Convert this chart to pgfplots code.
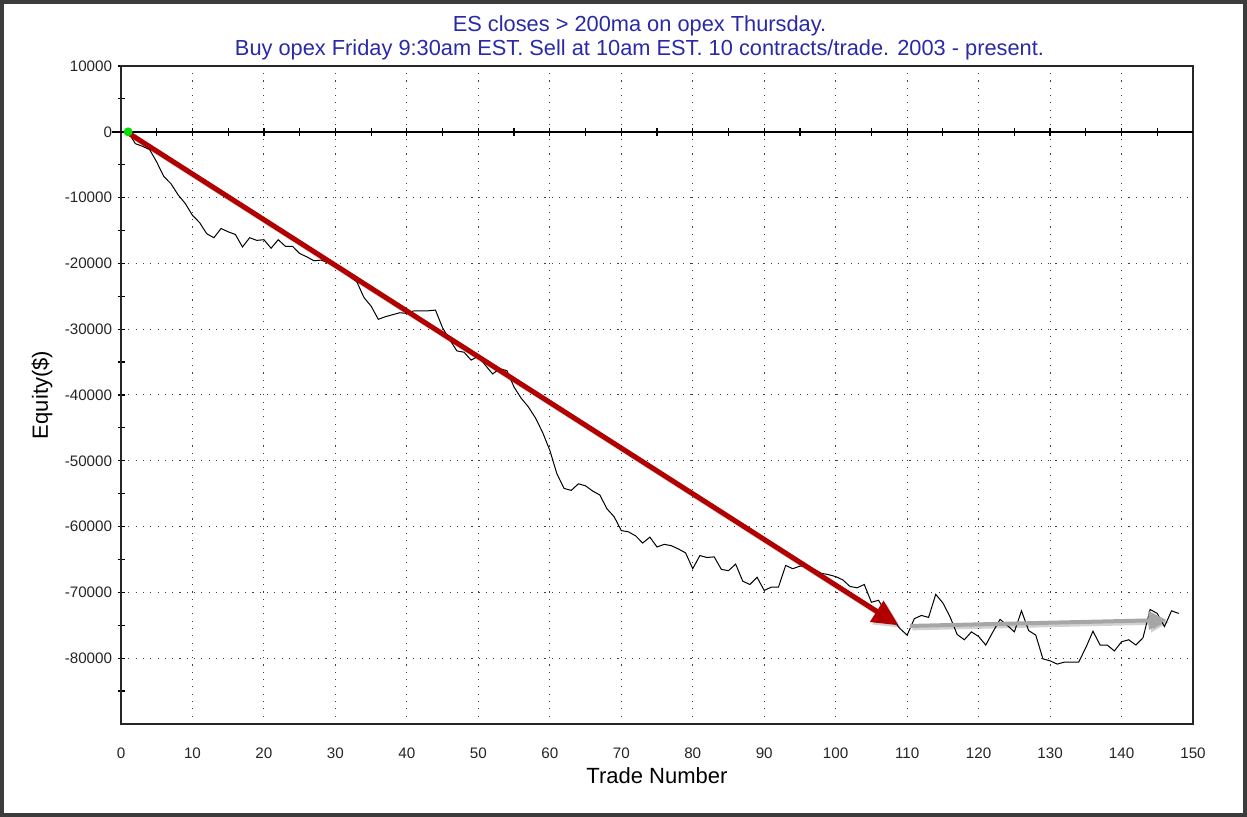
\documentclass[border=0pt]{standalone}
\usepackage{pgfplots}
\pgfplotsset{compat=1.18}
\usepackage{pgfplotstable}
\usepackage{fontspec}
\setmainfont{Liberation Sans}
\usetikzlibrary{arrows.meta}
\definecolor{titleblue}{HTML}{2A2AA8}
\definecolor{framegray}{HTML}{3C3C3C}
\definecolor{arrowred}{HTML}{B20000}
\definecolor{arrowgray}{HTML}{A6A6A6}
\definecolor{dotgreen}{HTML}{00E000}

\pgfplotstableread{
n v
1 0
2 -1800
3 -2200
4 -2700
5 -4600
6 -6800
7 -7900
8 -9600
9 -10900
10 -12700
11 -13800
12 -15500
13 -16100
14 -14700
15 -15200
16 -15600
17 -17500
18 -16100
19 -16500
20 -16400
21 -17700
22 -16400
23 -17400
24 -17400
25 -18500
26 -19000
27 -19600
28 -19500
29 -19900
30 -20500
31 -21200
32 -22000
33 -22800
34 -25200
35 -26500
36 -28500
37 -28100
38 -27800
39 -27500
40 -27600
41 -27200
42 -27200
43 -27200
44 -27100
45 -29800
46 -31600
47 -33300
48 -33500
49 -34700
50 -34100
51 -35500
52 -36800
53 -36000
54 -36300
55 -38800
56 -40500
57 -41800
58 -43500
59 -45700
60 -48400
61 -52000
62 -54200
63 -54500
64 -53500
65 -53800
66 -54600
67 -55200
68 -57300
69 -58500
70 -60600
71 -60800
72 -61400
73 -62500
74 -61600
75 -63100
76 -62700
77 -62900
78 -63400
79 -64000
80 -66400
81 -64400
82 -64700
83 -64600
84 -66500
85 -66700
86 -65700
87 -68300
88 -68800
89 -67700
90 -69700
91 -69200
92 -69200
93 -65900
94 -66400
95 -66000
96 -66000
97 -66500
98 -67100
99 -67300
100 -67600
101 -68100
102 -69100
103 -69300
104 -68800
105 -71500
106 -71200
107 -73000
108 -74200
109 -75500
110 -76500
111 -74000
112 -73500
113 -73800
114 -70300
115 -71600
116 -73700
117 -76400
118 -77200
119 -76000
120 -76700
121 -78000
122 -76000
123 -74100
124 -75000
125 -76000
126 -72800
127 -75800
128 -76500
129 -80100
130 -80400
131 -80900
132 -80600
133 -80600
134 -80600
135 -78400
136 -75900
137 -78000
138 -78000
139 -78900
140 -77500
141 -77200
142 -78000
143 -76900
144 -72600
145 -73200
146 -75200
147 -72800
148 -73200
}\equity

\begin{document}
\begin{tikzpicture}
\useasboundingbox (0,0) rectangle (623.5pt,408.5pt);
\fill[white] (0,0) rectangle (623.5pt,408.5pt);
\draw[framegray, line width=2pt] (1pt,1pt) rectangle (622.5pt,407.5pt);
\node[titleblue, font=\fontsize{10.9}{12}\selectfont] at (319.75pt,395.8pt) {ES closes > 200ma on opex Thursday.};
\node[titleblue, font=\fontsize{10.9}{12}\selectfont] at (319.75pt,383.6pt) {Buy opex Friday 9:30am EST. Sell at 10am EST. 10 contracts/trade. 2003 - present.};
\begin{axis}[
  at={(60.5pt,46.5pt)}, anchor=south west,
  width=536pt, height=329pt, scale only axis,
  xmin=0, xmax=150, ymin=-90000, ymax=10000,
  xtick={0,10,...,150},
  ytick={-80000,-70000,...,10000},
  minor ytick={-85000,-75000,...,5000},
  xtick pos=bottom, ytick pos=left,
  tick align=center,
  major tick length=3.5pt, minor tick length=3.5pt,
  x tick style={draw=none},
  y tick style={black, line width=0.6pt},
  grid=major,
  major grid style={black!75, line width=0.5pt, dash pattern=on 0.55pt off 3.1pt},
  axis line style={black!85, line width=1pt},
  /pgf/number format/assume math mode=true,
  /pgf/number format/set thousands separator={},
  scaled y ticks=false,
  ticklabel style={font=\fontsize{7.6}{9}\selectfont, text=black!85},
  xticklabel style={anchor=center, yshift=-13pt},
  yticklabel style={anchor=east, inner sep=0pt, xshift=-2.5pt},
  xlabel={Trade Number},
  ylabel={Equity(\$)},
  label style={font=\fontsize{11}{12}\selectfont},
  xlabel style={at={(axis description cs:0.5,-0.079)}, anchor=center},
  ylabel style={at={(axis description cs:-0.0737,0.5)}, anchor=center},
  clip=false,
]
% zero line with ticks
\draw[black, line width=0.8pt] (axis cs:-1.2,0) -- (axis cs:150,0);
\foreach \xx in {5,10,...,145} {
  \edef\zerotick{\noexpand\draw[black, line width=0.6pt] ([yshift=-1.9pt]axis cs:\xx,0) -- ([yshift=1.9pt]axis cs:\xx,0);}
  \zerotick
}
\addplot[black, line width=0.5pt] table[x=n, y=v] {\equity};
% arrow shadows
\addplot[black, opacity=0.18, line width=2.5pt, -{Triangle[length=13pt,width=12pt]}, shift={(1.2pt,-1.2pt)}] coordinates {(1.2,-300) (108.8,-75000)};
\addplot[black, opacity=0.18, line width=2pt, -{Triangle[length=9pt,width=9pt]}, shift={(1.2pt,-1.2pt)}] coordinates {(110.4,-75100) (146.3,-74200)};
% arrows
\addplot[arrowred, line width=2.5pt, -{Triangle[length=13pt,width=12pt]}] coordinates {(1.2,-300) (108.8,-75000)};
\addplot[arrowgray, line width=2pt, -{Triangle[length=9pt,width=9pt]}] coordinates {(110.4,-75100) (146.3,-74200)};
\addplot[only marks, mark=*, mark size=2pt, dotgreen, mark options={draw=dotgreen, fill=dotgreen}] coordinates {(1,0)};
\end{axis}
\end{tikzpicture}
\end{document}
